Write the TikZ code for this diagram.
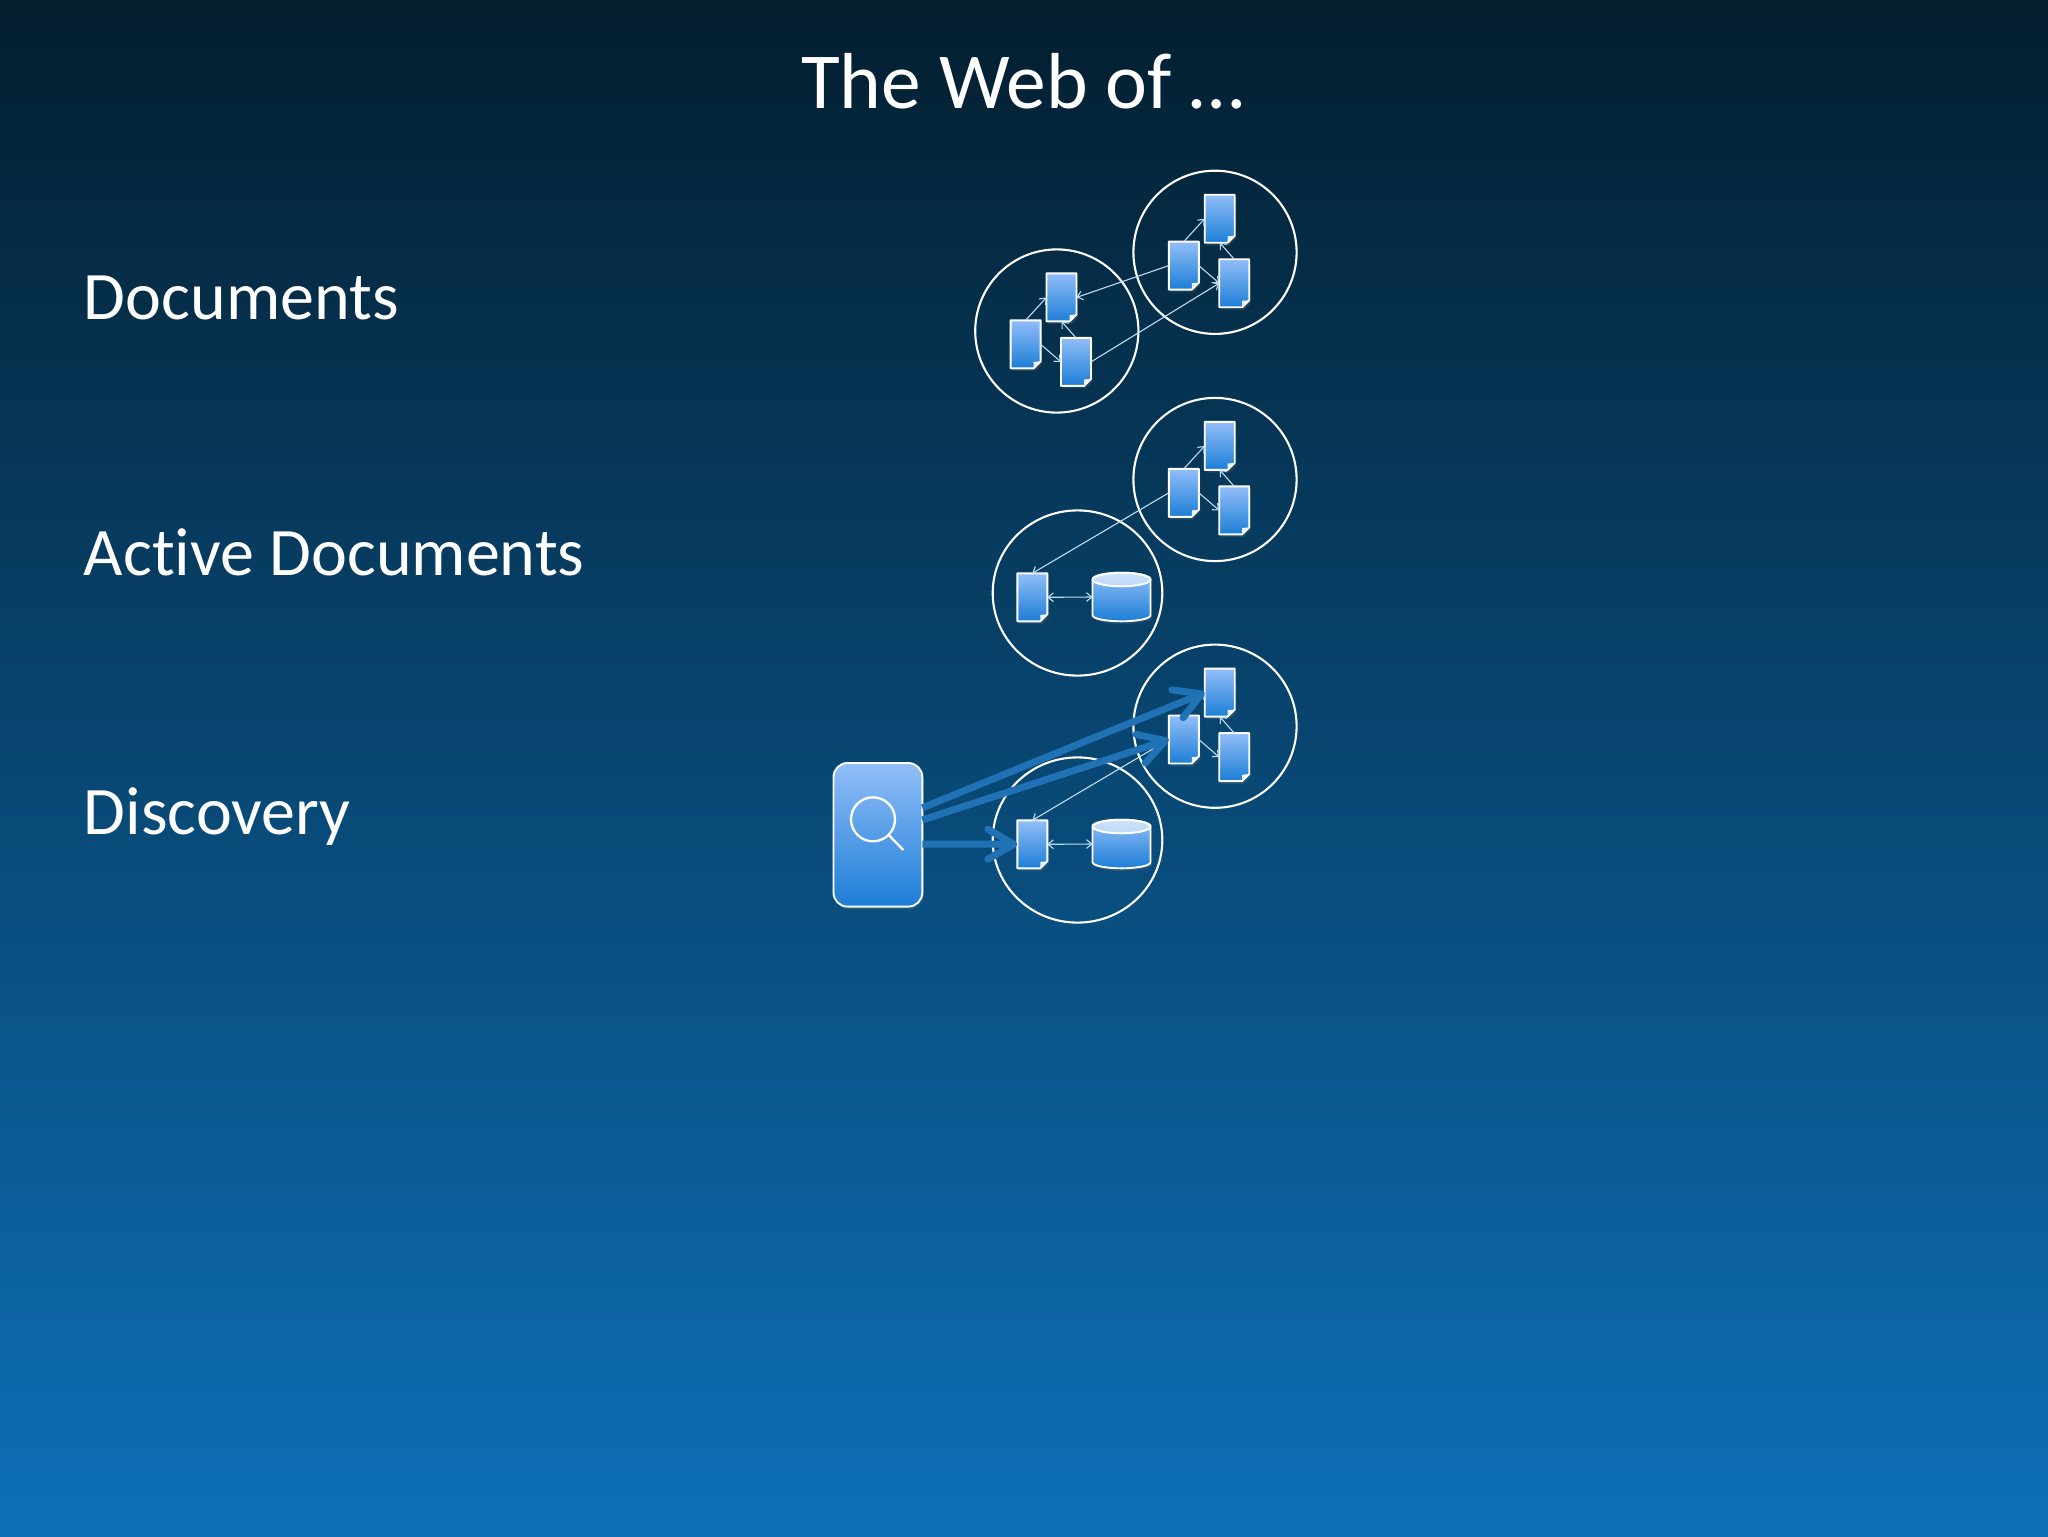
\documentclass[tikz,border=0pt]{standalone}
\usepackage{fontspec}
\setmainfont{Carlito}[Ligatures=NoCommon]
\usetikzlibrary{arrows.meta,shapes.geometric,shadows,calc}
\definecolor{bgtop}{RGB}{3,30,47}
\definecolor{bgmid}{RGB}{11,82,135}
\definecolor{bgbot}{RGB}{13,112,183}
\definecolor{boxtop}{RGB}{146,190,248}
\definecolor{boxbot}{RGB}{28,126,214}
\definecolor{thinline}{RGB}{190,220,242}
\definecolor{thickline}{RGB}{32,114,180}
\tikzset{
  px/.style={x=0.5pt,y=-0.5pt},
  anchorbox/.style={rectangle,inner sep=0pt,outer sep=0pt,draw=none},
  docbox/.style={anchorbox,minimum width=15pt,minimum height=24pt},
  cylbox/.style={anchorbox,minimum width=29pt,minimum height=24.3pt},
  shapeface/.style={draw=white,line width=0.95pt,line join=round,top color=boxtop,bottom color=boxbot,
    drop shadow={opacity=0.2,shadow xshift=0.8pt,shadow yshift=-1.4pt}},
  ringcircle/.style={ellipse,draw=white,line width=1.05pt,inner sep=0pt,outer sep=0pt},
  thinarrow/.style={draw=thinline,line width=0.55pt,-{Straight Barb[length=2.6pt,width=4.4pt]}},
  thinboth/.style={draw=thinline,line width=0.55pt,{Straight Barb[length=2.6pt,width=4.4pt]}-{Straight Barb[length=2.6pt,width=4.4pt]}},
  thickarrow/.style={draw=thickline,line width=3.5pt,-{Straight Barb[length=13pt,width=15pt,round]}},
  label/.style={anchor=base west,text=white,inner sep=0pt,font=\fontsize{34}{40}\selectfont},
  titletext/.style={anchor=base,text=white,inner sep=0pt,font=\fontsize{39.7}{46}\selectfont},
}
\newcommand{\docnode}[3]{%
  \node[docbox] (#1) at (#2,#3) {};
  \path[shapeface] (#1.north west) -- (#1.north east) -- ([yshift=3.5pt]#1.south east)
    -- ([xshift=-3.5pt]#1.south east) -- (#1.south west) -- cycle;
  \fill[white,opacity=.9] ([yshift=3.5pt]#1.south east) -- ([xshift=-3.5pt,yshift=3.2pt]#1.south east)
    -- ([xshift=-3.5pt]#1.south east) -- cycle;
}
\newcommand{\cylnode}[3]{%
  \node[cylbox] (#1) at (#2,#3) {};
  \path[shapeface] ([yshift=-3.4pt]#1.north west) arc[start angle=180,end angle=0,x radius=14.5pt,y radius=3.4pt]
    -- ([yshift=3pt]#1.south east) arc[start angle=0,end angle=-180,x radius=14.5pt,y radius=3pt] -- cycle;
  \path[draw=white,line width=0.95pt,fill=white,fill opacity=.55] ([yshift=-3.4pt]#1.north west)
    arc[start angle=180,end angle=-180,x radius=14.5pt,y radius=3.4pt];
}
\newcommand{\docgroup}[3]{%
  \node[ringcircle,minimum width=81.6pt,minimum height=81.6pt] (#1) at (#2,#3) {};
  \docnode{#1a}{#2+4.7}{#3-33.6}
  \docnode{#1b}{#2-31.2}{#3+13.3}
  \docnode{#1c}{#2+19.2}{#3+30.9}
  \draw[thinarrow] (#1b.north) -- (#1a.west);
  \draw[thinarrow] (#1c.north) -- (#1a.south);
  \draw[thinarrow] (#1b.east) -- (#1c.west);
}
\newcommand{\servergroup}[3]{%
  \node[ringcircle,minimum width=84.8pt,minimum height=82.6pt] (#1) at (#2,#3) {};
  \docnode{#1d}{#2-45.2}{#3+4.3}
  \cylnode{#1e}{#2+44}{#3+4}
  \draw[thinboth] (#1d.east) -- (#1e.west);
}
\begin{document}
\begin{tikzpicture}[px]
\useasboundingbox (0,0) rectangle (2048,1536);
\shade[top color=bgtop,middle color=bgmid,bottom color=bgbot] (0,0) rectangle (2048,1536);

\node[titletext] (title) at (1023,109) {The Web of …};
\node[label] (l1) at (83.5,319) {Documents};
\node[label] (l2) at (83.5,575) {Active Documents};
\node[label] (l3) at (83.5,834) {Discovery};

% row 1
\docgroup{p}{1215}{252.3}
\docgroup{q}{1056.8}{331}
\draw[thinarrow] (pb.west) -- (qa.east);
\draw[thinarrow] (qc.east) -- (pc.west);

% row 2
\docgroup{r}{1215}{479.5}
\servergroup{s}{1077.5}{593}
\draw[thinarrow] (rb.west) -- (sd.north);

% row 3
\docgroup{t}{1215}{726.2}
\servergroup{u}{1077.5}{840}
\draw[thinarrow] (tb.west) -- (ud.north);

% search box
\node[anchorbox,minimum width=44.4pt,minimum height=71.8pt] (search) at (877.9,834.8) {};
\path[shapeface,rounded corners=7pt] (search.north west) -- (search.north east) -- (search.south east) -- (search.south west) -- cycle;
\node[circle,draw=white,line width=1.15pt,minimum size=22pt,inner sep=0pt,outer sep=0pt] (lens) at (873,819.3) {};
\coordinate (handleend) at (903.3,850);
\draw[white,line width=1.15pt] (lens.south east) -- (handleend);

% thick arrows
\draw[thickarrow] ([yshift=13.5pt]search.east) -- (ta.west);
\draw[thickarrow] ([yshift=7.4pt]search.east) -- (tb.west);
\draw[thickarrow] ([yshift=-4.6pt]search.east) -- (ud.west);
\end{tikzpicture}
\end{document}
